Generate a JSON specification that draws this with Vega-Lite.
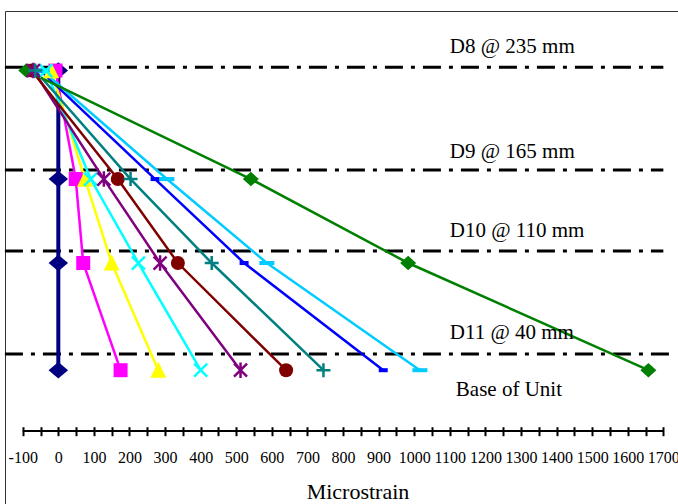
{
  "$schema": "https://vega.github.io/schema/vega-lite/v6.json",
  "width": 673,
  "height": 493,
  "autosize": {"type": "none"},
  "padding": {"left": 5, "top": 11, "right": 0, "bottom": 0},
  "background": "white",
  "config": {"view": {"stroke": "#333333", "strokeWidth": 1}, "font": "Liberation Serif"},
  "datasets": {
    "pts": [
      {"s": "S1", "i": 1, "x": 0, "y": 232.7}, {"s": "S1", "i": 2, "x": 0, "y": 158.9}, {"s": "S1", "i": 3, "x": 0, "y": 101.8}, {"s": "S1", "i": 4, "x": 0, "y": 28.9},
      {"s": "S2", "i": 1, "x": -8, "y": 232.7}, {"s": "S2", "i": 2, "x": 49, "y": 158.9}, {"s": "S2", "i": 3, "x": 70, "y": 101.8}, {"s": "S2", "i": 4, "x": 175, "y": 28.9},
      {"s": "S3", "i": 1, "x": -20, "y": 232.7}, {"s": "S3", "i": 2, "x": 75, "y": 158.9}, {"s": "S3", "i": 3, "x": 150, "y": 101.8}, {"s": "S3", "i": 4, "x": 281, "y": 28.9},
      {"s": "S4", "i": 1, "x": -35, "y": 232.7}, {"s": "S4", "i": 2, "x": 91, "y": 158.9}, {"s": "S4", "i": 3, "x": 225, "y": 101.8}, {"s": "S4", "i": 4, "x": 400, "y": 28.9},
      {"s": "S5", "i": 1, "x": -70, "y": 232.7}, {"s": "S5", "i": 2, "x": 128, "y": 158.9}, {"s": "S5", "i": 3, "x": 286, "y": 101.8}, {"s": "S5", "i": 4, "x": 512, "y": 28.9},
      {"s": "S6", "i": 1, "x": -75, "y": 232.7}, {"s": "S6", "i": 2, "x": 167, "y": 158.9}, {"s": "S6", "i": 3, "x": 336, "y": 101.8}, {"s": "S6", "i": 4, "x": 640, "y": 28.9},
      {"s": "S7", "i": 1, "x": -65, "y": 232.7}, {"s": "S7", "i": 2, "x": 203, "y": 158.9}, {"s": "S7", "i": 3, "x": 431, "y": 101.8}, {"s": "S7", "i": 4, "x": 745, "y": 28.9},
      {"s": "S8", "i": 1, "x": -50, "y": 232.7}, {"s": "S8", "i": 2, "x": 272, "y": 158.9}, {"s": "S8", "i": 3, "x": 522, "y": 101.8}, {"s": "S8", "i": 4, "x": 913, "y": 28.9},
      {"s": "S9", "i": 1, "x": -45, "y": 232.7}, {"s": "S9", "i": 2, "x": 305, "y": 158.9}, {"s": "S9", "i": 3, "x": 586, "y": 101.8}, {"s": "S9", "i": 4, "x": 1016, "y": 28.9},
      {"s": "S10", "i": 1, "x": -90, "y": 232.7}, {"s": "S10", "i": 2, "x": 541, "y": 158.9}, {"s": "S10", "i": 3, "x": 983, "y": 101.8}, {"s": "S10", "i": 4, "x": 1658, "y": 28.9}
    ]
  },
  "encoding": {
    "x": {
      "field": "x", "type": "quantitative",
      "scale": {"domain": [-149.8, 1741.2], "nice": false, "zero": false},
      "axis": {
        "orient": "bottom", "offset": -77.3, "domain": false, "grid": false,
        "values": [-100,-50,0,50,100,150,200,250,300,350,400,450,500,550,600,650,700,750,800,850,900,950,1000,1050,1100,1150,1200,1250,1300,1350,1400,1450,1500,1550,1600,1650,1700],
        "tickSize": 9, "tickWidth": 2, "tickColor": "black",
        "labelExpr": "datum.value % 100 === 0 ? '' + datum.value : ''",
        "labelFont": "Liberation Serif", "labelFontSize": 16, "labelColor": "black",
        "labelPadding": 14, "labelOverlap": false, "labelFlush": false, "labelBound": false,
        "title": "Microstrain", "titleFont": "Liberation Serif", "titleFontSize": 22,
        "titleFontWeight": "normal", "titleColor": "black",
        "titleX": 352.5, "titleY": 55, "titleBaseline": "top", "titleAlign": "center"
      }
    },
    "y": {
      "field": "y", "type": "quantitative",
      "scale": {"domain": [-62.1, 273.2], "nice": false, "zero": false},
      "axis": null
    }
  },
  "layer": [
    {
      "data": {"values": [
        {"x": -150, "x2": 1700, "y": 235},
        {"x": -150, "x2": 1700, "y": 165},
        {"x": -150, "x2": 1700, "y": 110},
        {"x": -150, "x2": 1720, "y": 40}
      ]},
      "mark": {"type": "rule", "color": "black", "strokeWidth": 3, "strokeDash": [18, 8, 4, 8]},
      "encoding": {"x2": {"field": "x2"}}
    },
    {
      "data": {"values": [{"x": -100, "x2": 1700, "y": -12.5}]},
      "mark": {"type": "rule", "color": "black", "strokeWidth": 2},
      "encoding": {"x2": {"field": "x2"}}
    },
    {
      "data": {"name": "pts"},
      "mark": {"type": "line", "strokeCap": "butt"},
      "encoding": {
        "color": {"field": "s", "type": "nominal", "legend": null,
          "scale": {"domain": ["S1","S2","S3","S4","S5","S6","S7","S8","S9","S10"],
                    "range": ["#000080","#FF00FF","#FFFF00","#00FFFF","#800080","#800000","#008080","#0000FF","#00CCFF","#008000"]}},
        "order": {"field": "i"},
        "strokeWidth": {"condition": {"test": "datum.s === 'S1'", "value": 4}, "value": 2.5}
      }
    },
    {
      "data": {"name": "pts"},
      "transform": [{"filter": {"field": "s", "oneOf": ["S1","S2","S3","S6","S8","S9","S10"]}}],
      "mark": {"type": "point", "filled": true, "opacity": 1, "strokeWidth": 0},
      "encoding": {
        "color": {"field": "s", "type": "nominal", "legend": null,
          "scale": {"domain": ["S1","S2","S3","S4","S5","S6","S7","S8","S9","S10"],
                    "range": ["#000080","#FF00FF","#FFFF00","#00FFFF","#800080","#800000","#008080","#0000FF","#00CCFF","#008000"]}},
        "shape": {"field": "s", "type": "nominal", "legend": null,
          "scale": {"domain": ["S1","S2","S3","S4","S5","S6","S7","S8","S9","S10"],
                    "range": ["M-1,0L0,-0.85L1,0L0,0.85Z","M-1,-1L1,-1L1,1L-1,1Z","M0,-1.05L1,0.95L-1,0.95Z","M-1,-1L1,1M-1,1L1,-1","M-1,-1L1,1M-1,1L1,-1M0,-1.2L0,1.2","circle","M-1,0L1,0M0,-1L0,1","M-1,-0.45L1,-0.45L1,0.45L-1,0.45Z","M-1,-0.27L1,-0.27L1,0.27L-1,0.27Z","M-1,0L0,-0.9L1,0L0,0.9Z"]}},
        "size": {"field": "s", "type": "nominal", "legend": null,
          "scale": {"type": "ordinal", "domain": ["S1","S2","S3","S4","S5","S6","S7","S8","S9","S10"],
                    "range": [380,196,256,169,169,196,196,81,225,256]}}
      }
    },
    {
      "data": {"name": "pts"},
      "transform": [{"filter": {"field": "s", "oneOf": ["S4","S5","S7"]}}],
      "mark": {"type": "point", "filled": false, "opacity": 1, "strokeWidth": 2.5},
      "encoding": {
        "color": {"field": "s", "type": "nominal", "legend": null,
          "scale": {"domain": ["S1","S2","S3","S4","S5","S6","S7","S8","S9","S10"],
                    "range": ["#000080","#FF00FF","#FFFF00","#00FFFF","#800080","#800000","#008080","#0000FF","#00CCFF","#008000"]}},
        "shape": {"field": "s", "type": "nominal", "legend": null,
          "scale": {"domain": ["S1","S2","S3","S4","S5","S6","S7","S8","S9","S10"],
                    "range": ["M-1,0L0,-0.85L1,0L0,0.85Z","M-1,-1L1,-1L1,1L-1,1Z","M0,-1.05L1,0.95L-1,0.95Z","M-1,-1L1,1M-1,1L1,-1","M-1,-1L1,1M-1,1L1,-1M0,-1.2L0,1.2","circle","M-1,0L1,0M0,-1L0,1","M-1,-0.45L1,-0.45L1,0.45L-1,0.45Z","M-1,-0.27L1,-0.27L1,0.27L-1,0.27Z","M-1,0L0,-0.9L1,0L0,0.9Z"]}},
        "size": {"field": "s", "type": "nominal", "legend": null,
          "scale": {"type": "ordinal", "domain": ["S1","S2","S3","S4","S5","S6","S7","S8","S9","S10"],
                    "range": [380,196,256,169,169,196,196,81,225,256]}}
      }
    },
    {
      "data": {"values": [
        {"x": 1100, "y": 244.6, "t": "D8 @ 235 mm"},
        {"x": 1100, "y": 173.2, "t": "D9 @ 165 mm"},
        {"x": 1100, "y": 119.5, "t": "D10 @ 110 mm"},
        {"x": 1100, "y": 50.1, "t": "D11 @ 40 mm"},
        {"x": 1117, "y": 11.3, "t": "Base of Unit"}
      ]},
      "mark": {"type": "text", "align": "left", "baseline": "alphabetic", "font": "Liberation Serif", "fontSize": 21, "color": "black"},
      "encoding": {"text": {"field": "t"}}
    }
  ]
}
